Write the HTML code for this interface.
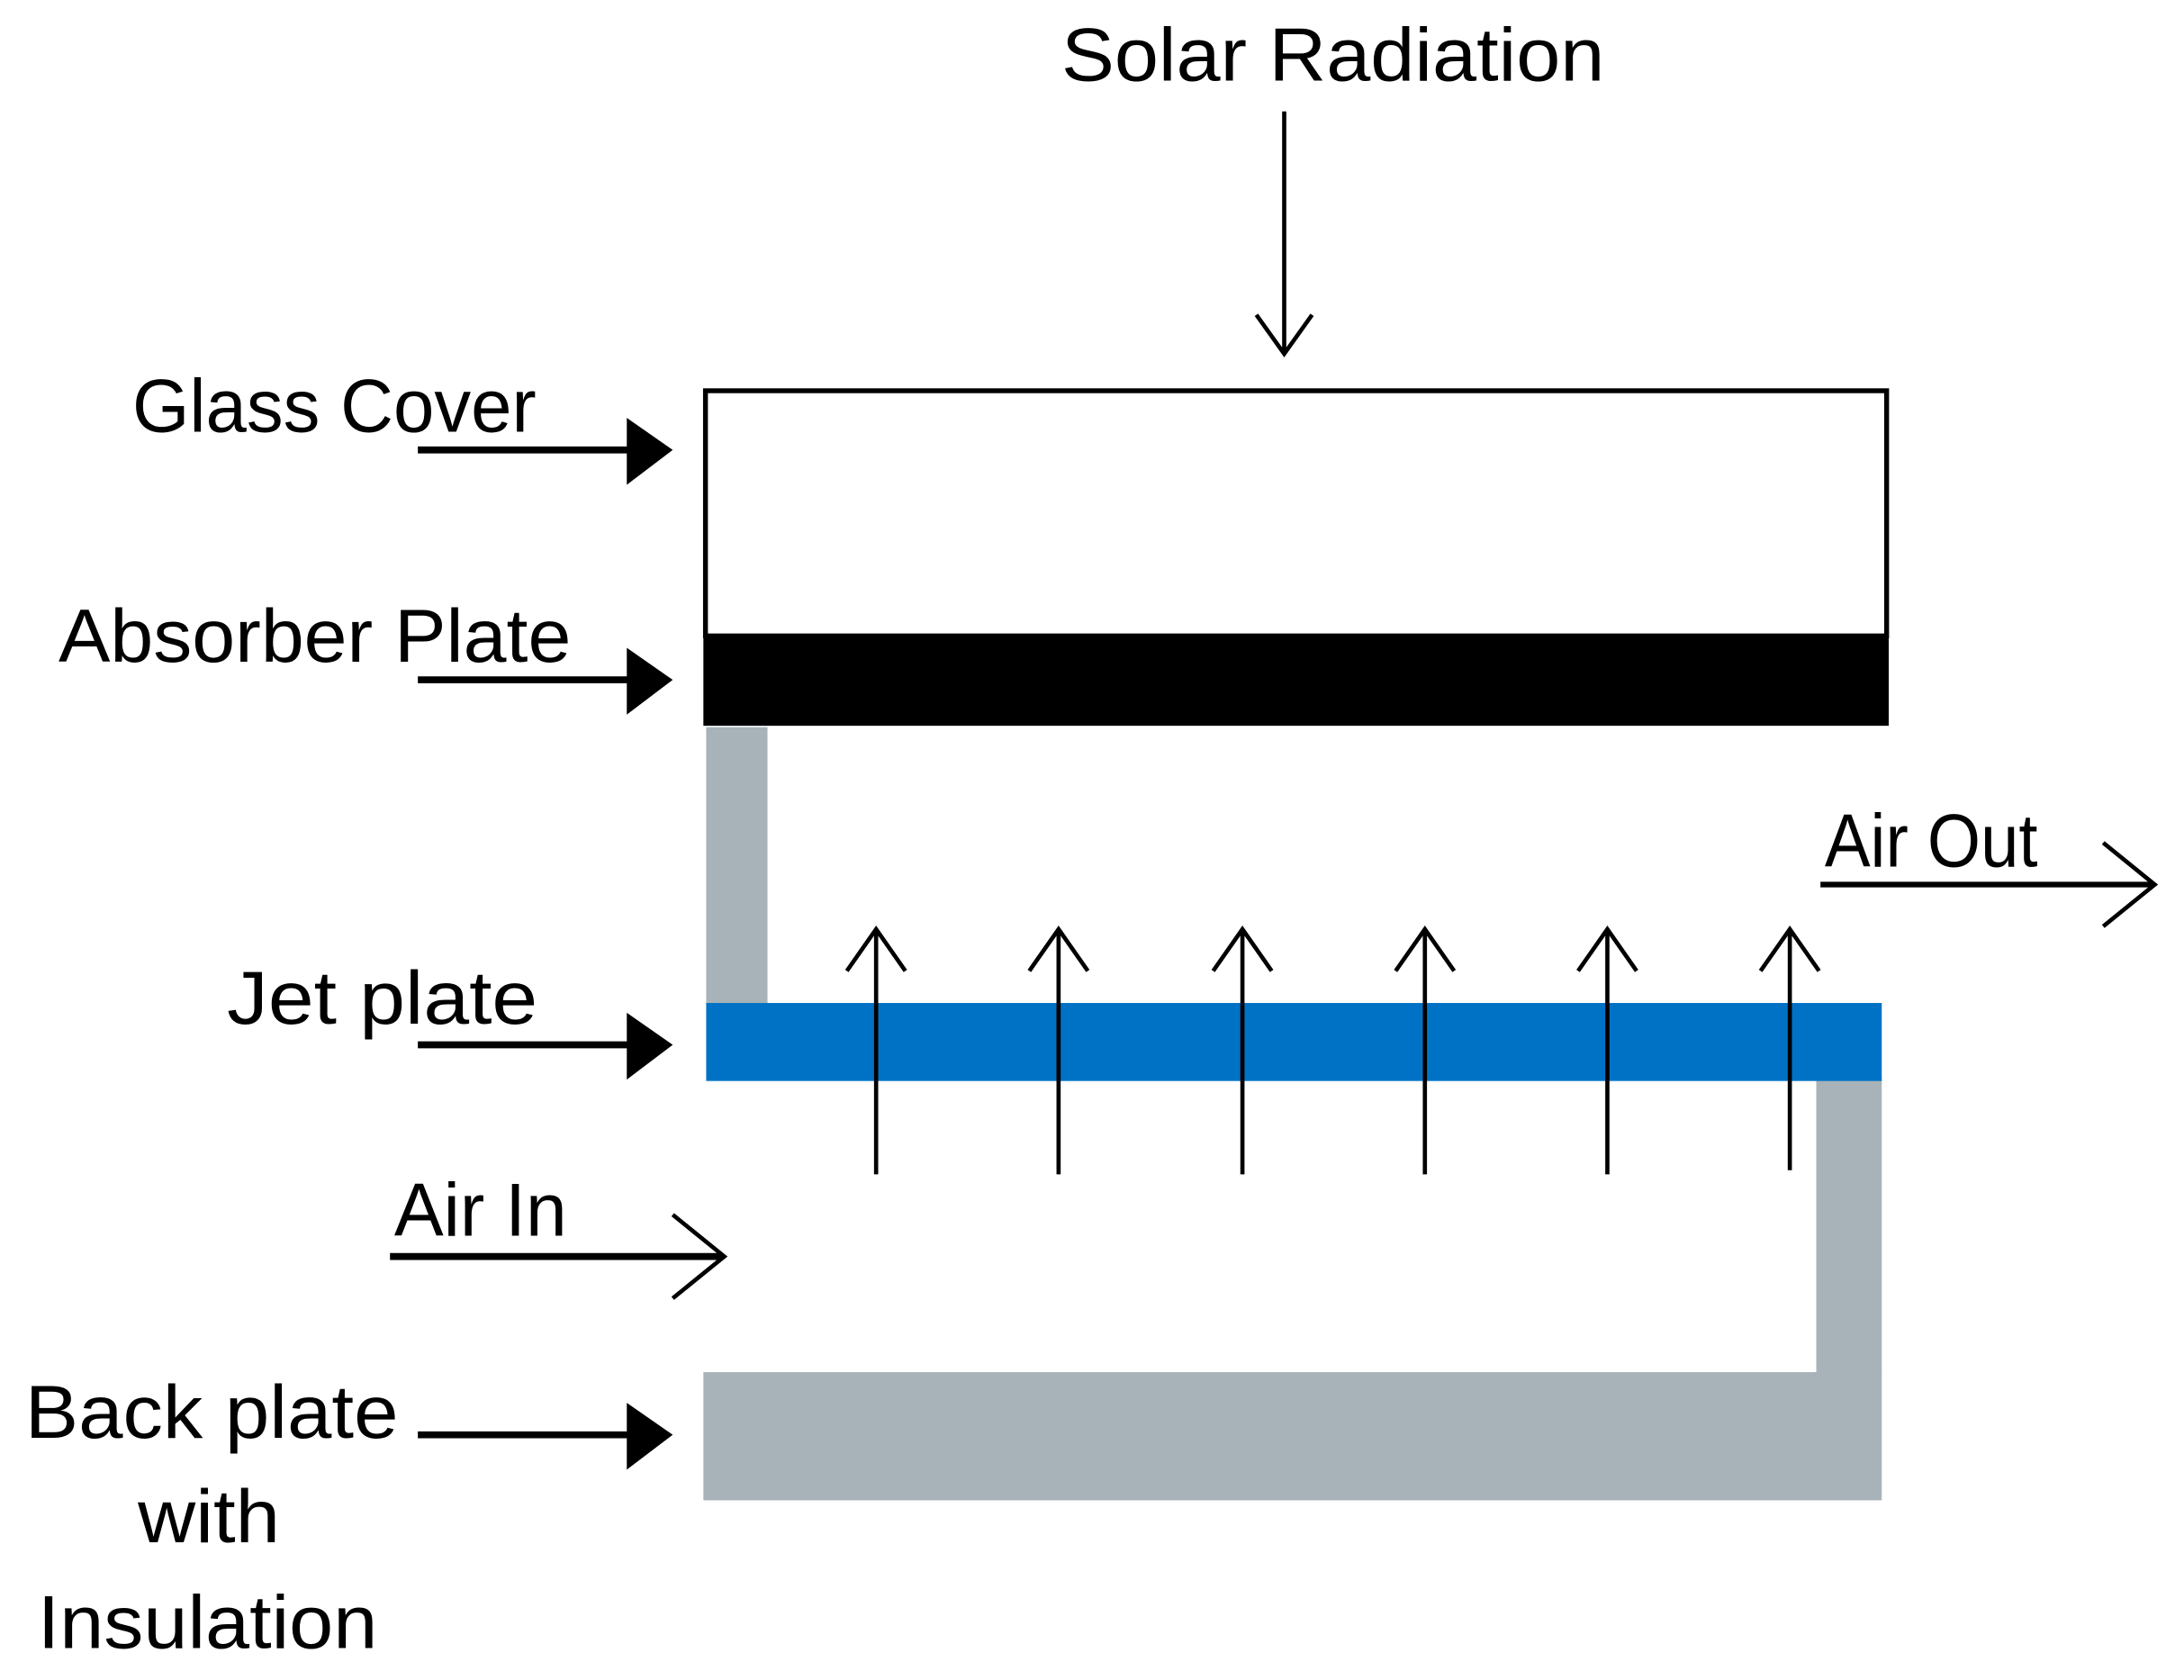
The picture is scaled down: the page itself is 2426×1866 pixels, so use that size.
<!DOCTYPE html>
<html><head><meta charset="utf-8"><style>html,body{margin:0;padding:0;background:#fff}svg{display:block}</style></head>
<body>
<svg width="2426" height="1866" viewBox="0 0 1568 1206" preserveAspectRatio="none" xmlns="http://www.w3.org/2000/svg" font-family="Liberation Sans, sans-serif" font-size="54" fill="#000">
<rect x="0" y="0" width="1568" height="1206" fill="#fff"/>
<text x="762" y="58" textLength="390" lengthAdjust="spacingAndGlyphs">Solar Radiation</text>
<g stroke="#000" stroke-width="3" fill="none">
<line x1="922" y1="80" x2="922" y2="254"/>
<polyline points="902,226 922,254 942,226"/>
</g>
<rect x="506.5" y="280.5" width="848" height="176" fill="#fff" stroke="#000" stroke-width="3.5"/>
<rect x="505" y="455" width="851" height="66" fill="#000"/>
<rect x="507" y="522" width="44" height="200" fill="#a7b3b8"/>
<rect x="1304" y="774" width="47" height="212" fill="#a7b3b8"/>
<rect x="505" y="985" width="846" height="92" fill="#a7b3b8"/>
<rect x="507" y="720" width="844" height="56" fill="#0072c6"/>
<g stroke="#000" stroke-width="3" fill="none">
<line x1="629" y1="843" x2="629" y2="667"/><polyline points="608,697 629,667 650,697"/>
<line x1="760" y1="843" x2="760" y2="667"/><polyline points="739,697 760,667 781,697"/>
<line x1="892" y1="843" x2="892" y2="667"/><polyline points="871,697 892,667 913,697"/>
<line x1="1023" y1="843" x2="1023" y2="667"/><polyline points="1002,697 1023,667 1044,697"/>
<line x1="1154" y1="843" x2="1154" y2="667"/><polyline points="1133,697 1154,667 1175,697"/>
<line x1="1285" y1="840" x2="1285" y2="667"/><polyline points="1264,697 1285,667 1306,697"/>
<line x1="1307" y1="635" x2="1546" y2="635" stroke-width="4"/><polyline points="1510,605 1547,635 1510,665"/>
<line x1="280" y1="902" x2="519" y2="902" stroke-width="5"/><polyline points="483,872 520,902 483,932"/>
</g>
<g stroke="#000" stroke-width="5">
<line x1="300" y1="323" x2="455" y2="323"/>
<line x1="300" y1="488" x2="455" y2="488"/>
<line x1="300" y1="750" x2="455" y2="750"/>
<line x1="300" y1="1030" x2="455" y2="1030"/>
</g>
<polygon points="450,300 483,323 450,348"/>
<polygon points="450,465 483,488 450,513"/>
<polygon points="450,727 483,750 450,775"/>
<polygon points="450,1007 483,1030 450,1055"/>
<text x="95" y="310" textLength="290" lengthAdjust="spacingAndGlyphs">Glass Cover</text>
<text x="42" y="475" textLength="368" lengthAdjust="spacingAndGlyphs">Absorber Plate</text>
<text x="1310" y="622" textLength="153" lengthAdjust="spacingAndGlyphs">Air Out</text>
<text x="163" y="735" textLength="223" lengthAdjust="spacingAndGlyphs">Jet plate</text>
<text x="283" y="887" textLength="124" lengthAdjust="spacingAndGlyphs">Air In</text>
<text x="18" y="1032" textLength="268" lengthAdjust="spacingAndGlyphs">Back plate</text>
<text x="99" y="1107" textLength="102" lengthAdjust="spacingAndGlyphs">with</text>
<text x="27" y="1183" textLength="244" lengthAdjust="spacingAndGlyphs">Insulation</text>
</svg>
</body></html>
